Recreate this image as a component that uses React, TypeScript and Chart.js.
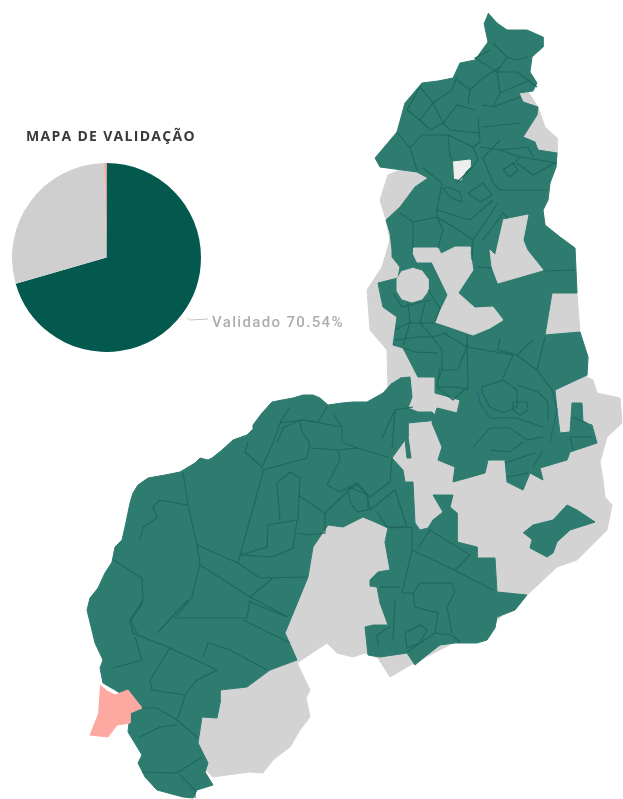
import React, { useEffect, useRef } from "react";
import { Chart, registerables } from "chart.js";

Chart.register(...registerables);

type P = [number, number];

const pieLabels = ["Validado", "Não validado", "Em validação"];
const pieValues = [70.54, 29.01, 0.45];
const pieColors = ["#04594f", "#d0cfcf", "#f6b0a8"];

const stateOutline: P[] = [[519,93],[527,90],[538,107],[545,127],[557,138],[557,153],[556,167],[550,183],[548,200],[543,210],[545,225],[560,237],[575,248],[577,293],[580,332],[588,357],[587,377],[593,380],[597,393],[620,398],[622,423],[607,437],[600,462],[603,480],[605,497],[612,505],[607,530],[577,560],[557,567],[540,583],[527,595],[497,620],[407,667],[390,677],[378,658],[365,653],[353,657],[337,653],[327,643],[297,663],[310,690],[306,698],[310,717],[300,730],[290,747],[273,760],[263,773],[250,772],[227,775],[213,777],[195,760],[205,700],[285,640],[300,560],[388,390],[387,350],[370,330],[367,290],[382,267],[390,240],[386,220],[380,200],[388,175],[400,170],[450,130]];

const validatedNorth: P[] = [[488,13],[497,23],[507,30],[527,30],[543,37],[543,47],[532,57],[530,72],[537,83],[533,91],[519,93],[523,102],[538,107],[537,115],[523,137],[535,142],[538,150],[557,153],[556,167],[550,183],[548,200],[543,210],[545,225],[560,237],[575,248],[577,293],[552,293],[545,335],[580,332],[588,357],[587,375],[555,390],[557,410],[560,433],[570,432],[572,403],[582,403],[583,422],[592,425],[597,443],[570,452],[567,460],[540,468],[543,480],[530,473],[523,490],[507,482],[505,460],[488,460],[485,473],[453,482],[455,467],[438,460],[442,447],[432,423],[437,408],[457,413],[460,400],[435,393],[435,377],[418,377],[403,348],[393,345],[397,317],[383,307],[380,293],[378,283],[398,278],[400,267],[392,257],[392,250],[390,233],[386,220],[400,207],[415,187],[428,178],[417,172],[380,167],[375,158],[397,132],[405,103],[422,83],[438,81],[453,78],[460,63],[475,60],[488,42],[484,23]];

const validatedSouth: P[] = [[400,378],[410,377],[412,397],[408,408],[418,412],[432,412],[440,420],[418,422],[408,423],[408,437],[411,458],[407,458],[405,440],[392,458],[403,470],[405,482],[413,482],[415,523],[420,530],[428,528],[433,520],[443,512],[433,495],[453,495],[450,507],[457,513],[457,542],[477,547],[477,558],[495,558],[497,592],[527,595],[515,610],[497,617],[495,628],[487,640],[477,643],[455,643],[440,645],[427,655],[415,665],[407,653],[380,657],[368,655],[365,627],[373,625],[388,625],[380,603],[377,587],[370,586],[370,580],[378,572],[390,570],[385,542],[388,528],[375,522],[363,517],[343,527],[328,525],[313,547],[308,577],[285,633],[297,660],[270,670],[247,687],[220,690],[220,703],[217,718],[202,717],[198,743],[208,763],[205,772],[213,785],[197,790],[193,798],[183,797],[157,790],[145,777],[138,763],[142,755],[128,732],[130,713],[142,708],[128,690],[120,693],[103,683],[100,668],[103,660],[95,643],[87,610],[90,598],[98,588],[105,573],[112,562],[115,547],[122,540],[125,527],[130,503],[133,493],[138,485],[148,478],[165,475],[180,472],[195,463],[200,458],[208,460],[212,458],[222,450],[233,440],[247,435],[252,430],[253,425],[262,413],[272,402],[282,400],[293,398],[303,395],[313,395],[320,398],[328,405],[342,403],[353,402],[367,402],[383,393],[392,383]];

const validatedIsland: P[] = [[523,533],[533,525],[553,520],[567,505],[577,510],[595,522],[570,530],[557,542],[553,553],[547,557],[530,548],[532,540]];

const grayCircle: P[] = [[412,268],[422,271],[428,279],[428,291],[422,299],[412,302],[402,299],[397,291],[397,279],[402,271]];
const grayBand: P[] = [[413,248],[438,248],[441,254],[455,247],[470,247],[470,252],[473,270],[458,293],[475,308],[493,307],[503,320],[490,328],[473,335],[450,327],[435,322],[448,295],[432,262],[417,262],[413,253]];
const grayWedge: P[] = [[503,220],[528,215],[523,240],[527,250],[543,270],[498,283],[492,267],[490,250],[495,255]];
const paleHole: P[] = [[453,162],[470,160],[470,167],[465,172],[461,180],[454,178]];

const alertRegion: P[] = [[100,685],[107,691],[115,695],[128,690],[142,708],[130,713],[130,723],[117,725],[108,737],[90,735],[98,715]];

const leader: P[] = [[187,318],[190,320],[208,319]];

const riverBorders: P[][] = [
  [[552,390],[557,410],[550,442]],
  [[478,392],[480,403],[490,418]],
];

const municipalBorders: P[][] = [
  [[183,472],[188,505],[197,545],[200,563],[192,597],[175,618],[247,618],[250,600]],
  [[197,545],[238,563],[260,578],[307,577]],
  [[200,565],[250,597],[288,617]],
  [[250,597],[273,578]],
  [[238,563],[263,472],[262,467],[245,452],[248,442]],
  [[262,467],[273,443],[280,423],[290,407]],
  [[263,470],[307,458],[310,443]],
  [[277,443],[283,428],[300,420],[302,432],[310,443]],
  [[240,555],[273,557],[293,548],[297,520],[268,525],[267,547],[240,555]],
  [[280,520],[277,483],[290,472],[300,478],[298,520]],
  [[298,495],[325,513],[325,533],[307,535],[297,533]],
  [[310,448],[338,450],[340,460],[327,485],[340,492],[357,483],[370,497],[390,482],[392,458]],
  [[338,450],[357,448],[388,457]],
  [[333,413],[342,427],[342,442],[357,448]],
  [[280,423],[302,420],[318,422],[327,407]],
  [[342,427],[303,420]],
  [[325,513],[347,492],[350,487],[367,495],[370,510],[395,490],[407,527]],
  [[377,512],[387,527],[405,527]],
  [[382,438],[395,410],[413,407]],
  [[395,410],[392,448]],
  [[348,490],[357,485],[368,495],[368,510],[357,512],[350,502],[348,490]],
  [[113,560],[142,578],[143,600],[130,620],[137,633]],
  [[140,540],[143,527],[157,518],[153,507],[160,500],[187,505]],
  [[143,602],[130,622],[133,633],[170,648],[217,670]],
  [[188,600],[157,633]],
  [[243,620],[290,643]],
  [[250,602],[287,617]],
  [[135,637],[142,660],[113,668]],
  [[170,648],[150,680],[152,690],[185,695],[197,680],[217,670]],
  [[203,657],[208,643],[230,650],[267,670]],
  [[142,708],[157,708],[177,720],[185,697]],
  [[177,720],[198,738]],
  [[140,737],[160,727],[177,725]],
  [[142,772],[177,773],[202,757]],
  [[180,775],[195,790],[195,798]],
  [[390,528],[412,527],[412,550],[402,593]],
  [[412,550],[450,568],[493,590]],
  [[418,548],[430,530],[470,555],[455,570]],
  [[380,587],[400,587]],
  [[402,593],[413,593],[420,583],[452,583],[455,592],[447,607],[452,633]],
  [[413,593],[415,607],[438,613],[435,633],[452,635],[460,642]],
  [[405,633],[420,625],[427,630],[420,643],[407,648],[405,633]],
  [[393,640],[395,600]],
  [[407,652],[435,633]],
  [[378,645],[377,635],[390,627]],
  [[467,335],[468,390]],
  [[467,347],[513,355],[503,378]],
  [[500,338],[498,350],[517,355],[537,370],[552,390]],
  [[533,340],[517,355]],
  [[482,387],[503,380],[517,390],[517,407],[503,413],[490,407],[482,393],[482,387]],
  [[513,402],[527,402],[528,410],[520,415],[513,410],[513,402]],
  [[517,385],[538,392],[548,402],[548,420]],
  [[490,418],[517,418],[543,427]],
  [[490,428],[510,428],[527,440],[543,437]],
  [[473,447],[490,428]],
  [[490,450],[510,452],[523,442]],
  [[505,463],[535,453]],
  [[533,467],[543,450]],
  [[507,477],[528,473]],
  [[437,387],[457,387],[468,390]],
  [[403,348],[415,352],[438,353]],
  [[442,370],[458,370],[468,343]],
  [[432,337],[442,350],[442,370],[438,380]],
  [[440,367],[437,387],[453,400],[467,387]],
  [[443,333],[467,347]],
  [[393,293],[402,307],[418,303],[430,300]],
  [[395,330],[408,323],[435,323]],
  [[408,303],[410,323],[403,345]],
  [[425,303],[420,323],[432,337],[448,333]],
  [[395,340],[418,337],[432,337]],
  [[428,290],[440,308],[435,322]],
  [[572,417],[587,423]],
  [[570,437],[573,450]],
  [[570,437],[592,437]],
  [[545,271],[575,270]],
  [[477,267],[492,268]],
  [[545,337],[537,370]],
  [[397,132],[410,148],[417,170]],
  [[410,148],[422,135],[448,135],[450,157],[453,160]],
  [[448,135],[473,147],[480,142],[478,117]],
  [[473,147],[478,160],[470,170],[457,182]],
  [[480,147],[500,150],[528,147],[533,157]],
  [[500,150],[520,157],[513,165]],
  [[500,140],[483,158],[493,183],[500,190],[547,190]],
  [[520,157],[557,163]],
  [[517,163],[533,175],[555,163]],
  [[503,170],[513,163],[518,170],[510,177],[503,170]],
  [[493,200],[470,220],[437,210],[442,183],[423,168]],
  [[437,210],[437,217],[413,222],[400,213]],
  [[413,222],[413,248]],
  [[437,217],[443,230],[438,248]],
  [[437,217],[463,233],[473,240],[472,260]],
  [[498,203],[473,240]],
  [[483,240],[503,213],[508,218]],
  [[443,188],[450,197],[462,202],[460,192],[448,187],[443,188]],
  [[468,193],[480,202],[492,195],[483,183],[468,193]],
  [[493,43],[507,57],[517,60],[528,57]],
  [[490,50],[475,58],[497,72],[500,93],[493,107],[482,105]],
  [[507,57],[497,72],[517,72],[537,87]],
  [[407,110],[420,87],[433,103],[420,120],[407,110]],
  [[433,103],[452,90],[457,77]],
  [[433,103],[443,123],[457,105],[475,110]],
  [[420,120],[430,130],[443,123],[450,130],[480,133]],
  [[457,80],[470,90],[483,78],[500,67]],
  [[470,90],[468,105]],
  [[500,93],[530,80]],
  [[493,107],[520,97]],
  [[483,127],[520,123]],
];

const toPoints = (pts: P[]) => pts.map(([x, y]) => ({ x, y }));

const shape = (pts: P[], color: string) => ({
  data: toPoints(pts),
  showLine: true,
  fill: "shape",
  backgroundColor: color,
  borderColor: color,
  borderWidth: 1,
  pointRadius: 0,
  tension: 0,
});

const stroke = (pts: P[], color: string, width: number) => ({
  data: toPoints(pts),
  showLine: true,
  fill: false,
  borderColor: color,
  borderWidth: width,
  pointRadius: 0,
  tension: 0,
});

const GREEN = "#2e7c6f";
const BORDER = "#1d675b";
const RIVER = "#1d6b73";
const GRAY = "#d3d3d3";

export default function App() {
  const mapRef = useRef<HTMLCanvasElement>(null);
  const pieRef = useRef<HTMLCanvasElement>(null);

  useEffect(() => {
    document.body.style.margin = "0";
    document.body.style.background = "#fff";
    // first dataset is painted last
    const datasets: any[] = [
      stroke(leader, "#c4c4c4", 1),
      ...riverBorders.map((b) => stroke(b, RIVER, 1.2)),
      ...municipalBorders.map((b) => stroke(b, BORDER, 1.1)),
      shape(alertRegion, "#fda9a2"),
      shape(paleHole, "#eeeeee"),
      shape(grayWedge, GRAY),
      shape(grayBand, GRAY),
      shape(grayCircle, GRAY),
      shape(validatedIsland, GREEN),
      shape(validatedSouth, GREEN),
      shape(validatedNorth, GREEN),
      shape(stateOutline, GRAY),
    ];
    const map = new Chart(mapRef.current!, {
      type: "scatter",
      data: { datasets },
      options: {
        animation: false,
        responsive: false,
        layout: { padding: 0 },
        plugins: { legend: { display: false }, tooltip: { enabled: false } },
        scales: {
          x: { type: "linear", display: false, min: 0, max: 623 },
          y: { type: "linear", display: false, min: 0, max: 799, reverse: true },
        },
      },
    } as any);
    const pie = new Chart(pieRef.current!, {
      type: "pie",
      data: {
        labels: pieLabels,
        datasets: [{ data: pieValues, backgroundColor: pieColors, borderWidth: 0 }],
      },
      options: {
        animation: false,
        responsive: false,
        layout: { padding: 0 },
        plugins: { legend: { display: false }, tooltip: { enabled: false } },
      },
    } as any);
    return () => {
      map.destroy();
      pie.destroy();
    };
  }, []);

  return (
    <div style={{ position: "absolute", left: 0, top: 0, width: 623, height: 799, overflow: "hidden", background: "#fff", filter: "blur(0.5px)" }}>
      <canvas ref={mapRef} width={623} height={799} style={{ position: "absolute", left: 0, top: 0 }} />
      <canvas ref={pieRef} width={189} height={189} style={{ position: "absolute", left: 12, top: 163 }} />
      <div style={{ position: "absolute", left: 26, top: 128, fontFamily: "'Open Sans', sans-serif", fontWeight: 700, fontSize: 14, letterSpacing: 1.3, color: "#3a3a3a", whiteSpace: "nowrap", lineHeight: "16px" }}>
        MAPA DE VALIDAÇÃO
      </div>
      <div style={{ position: "absolute", left: 212, top: 313, fontFamily: "Roboto, sans-serif", fontWeight: 500, fontSize: 15, letterSpacing: 1.35, color: "#adadad", whiteSpace: "nowrap", lineHeight: "18px" }}>
        Validado 70.54%
      </div>
    </div>
  );
}
